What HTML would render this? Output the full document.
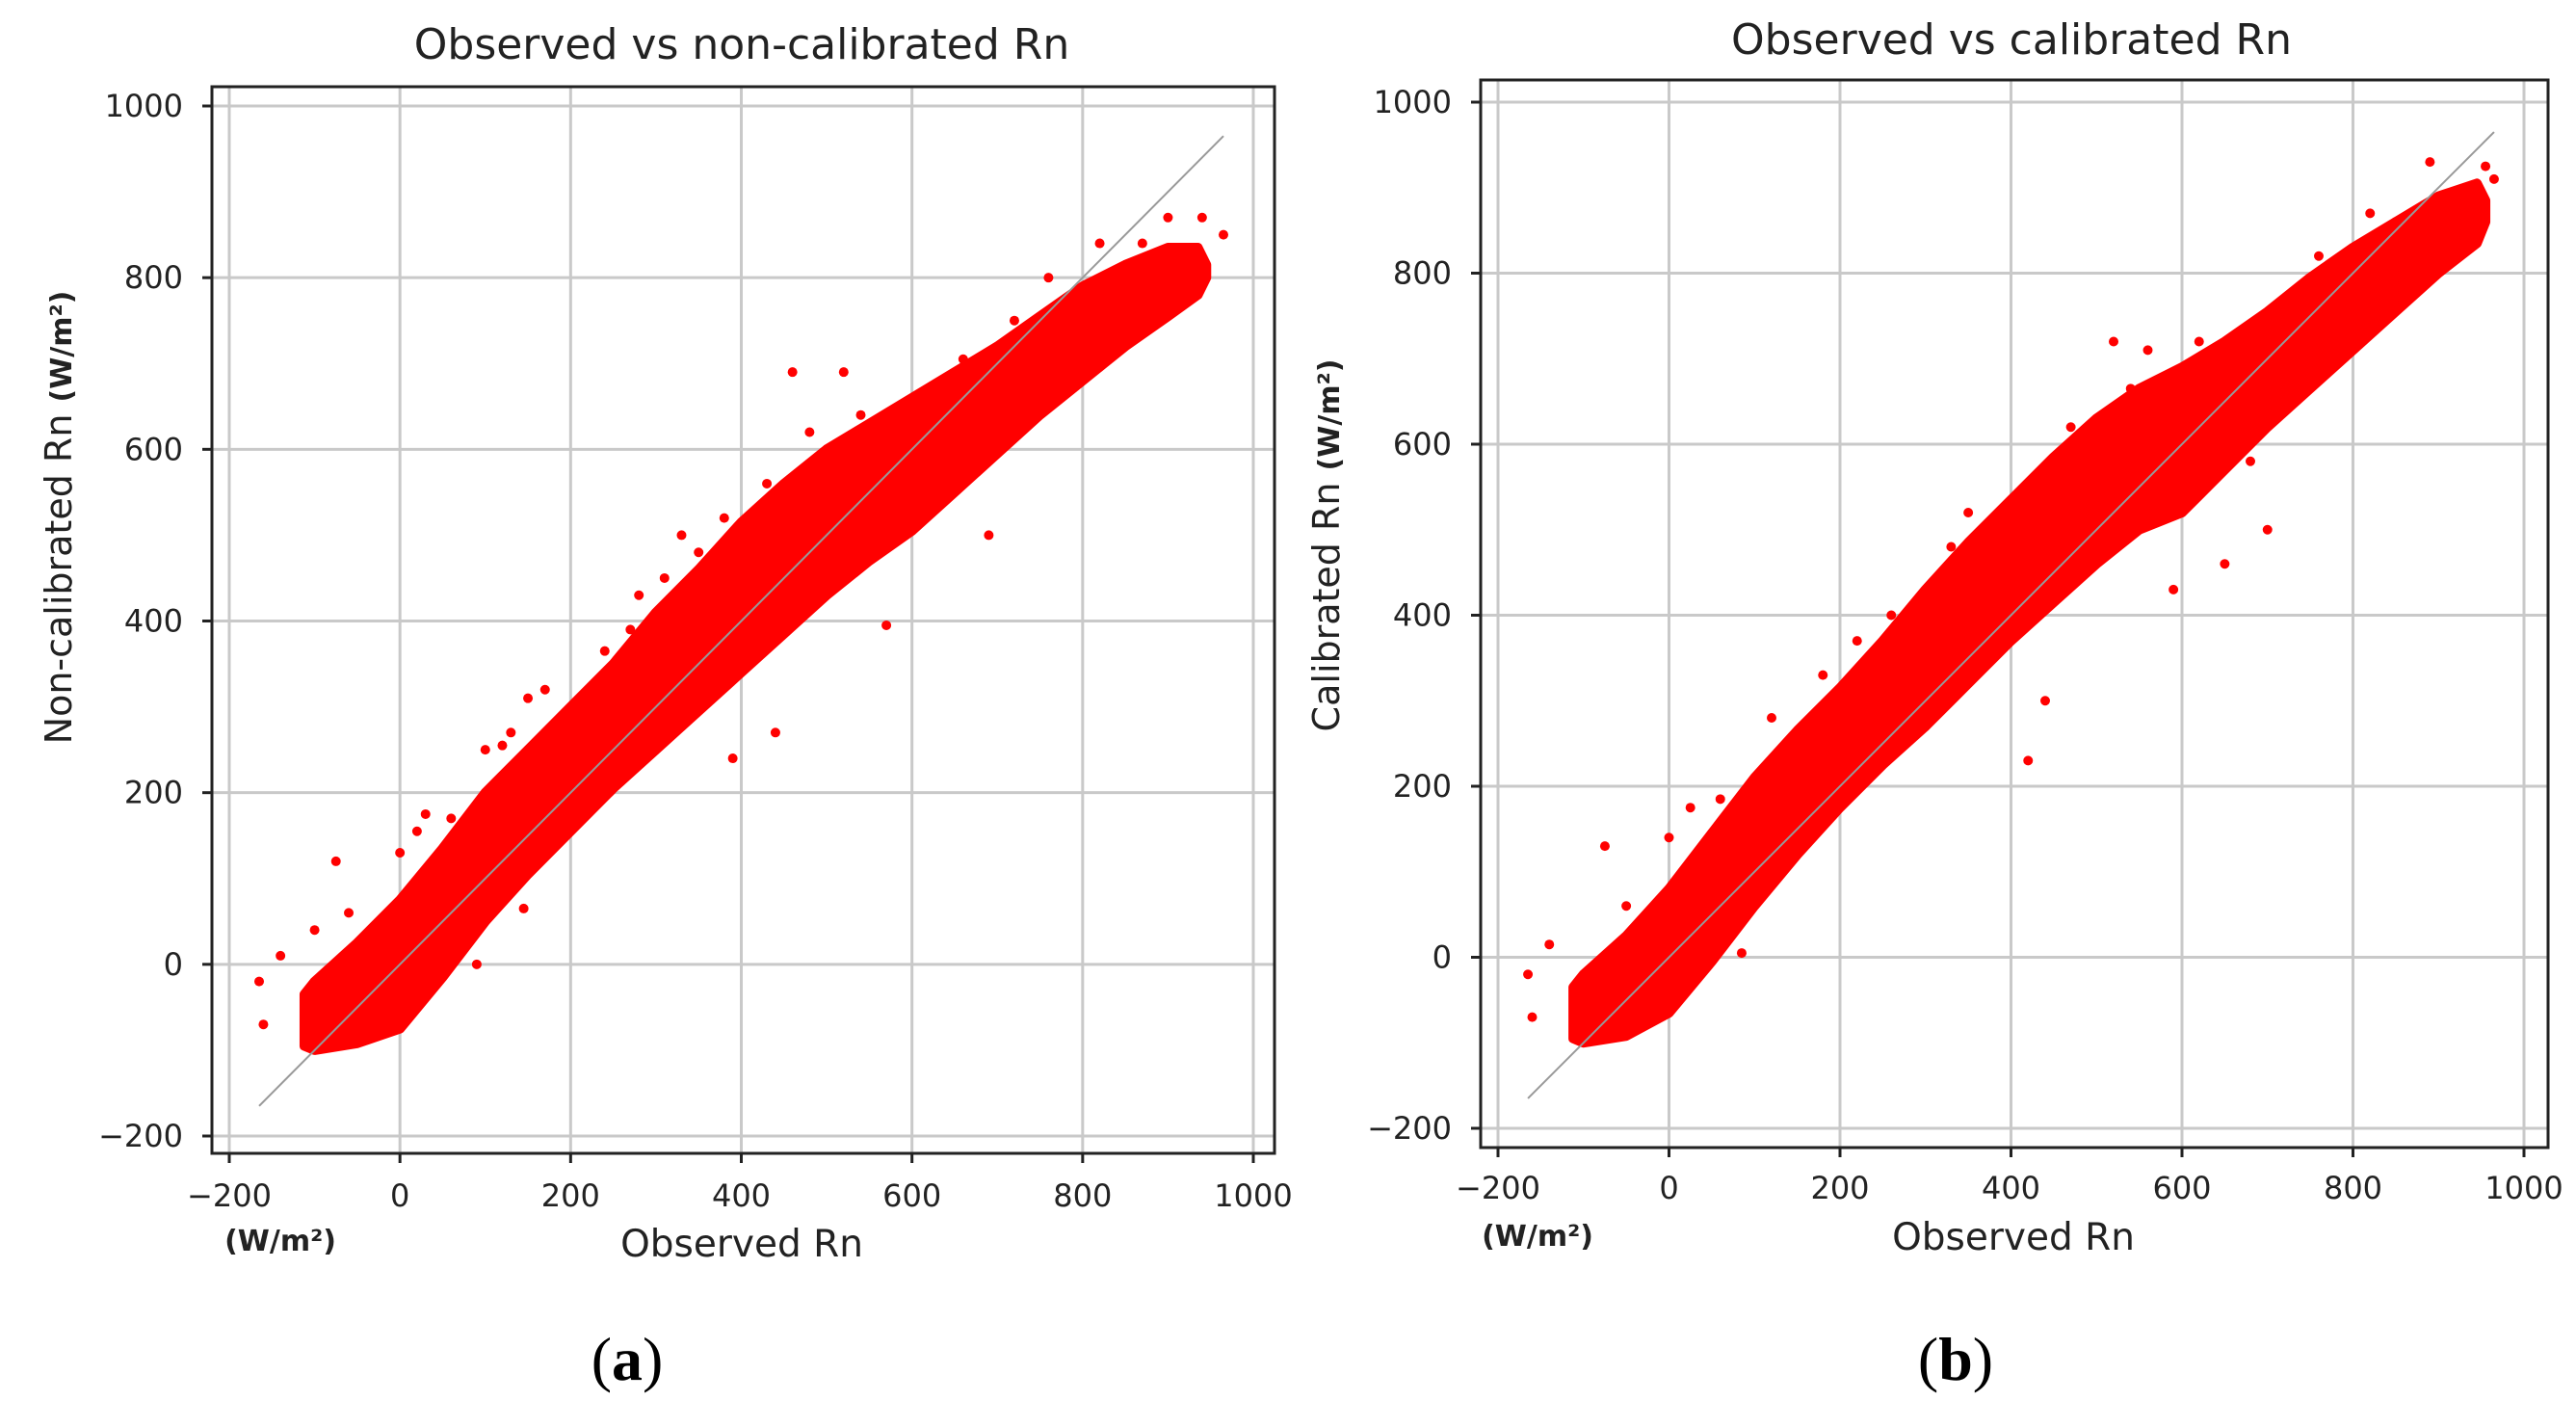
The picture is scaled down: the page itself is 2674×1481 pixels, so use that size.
<!DOCTYPE html>
<html><head><meta charset="utf-8">
<style>
html,body{margin:0;padding:0;background:#fff;}
svg{display:block;}
text{font-family:"DejaVu Sans","Liberation Sans",sans-serif;fill:#222;}
</style></head>
<body>
<svg id="fig" width="2674" height="1481" viewBox="0 0 2674 1481" xmlns="http://www.w3.org/2000/svg"></svg>
<script>
// ---- data ----
const tickValues = [-200, 0, 200, 400, 600, 800, 1000];
const tickLabels = ["\u2212200", "0", "200", "400", "600", "800", "1000"];

// panel a: dense band envelope (observed x, upper / lower predicted)
const bandXA = [-112, -100, -50, 0, 50, 100, 150, 200, 250, 300, 350, 400, 450, 500, 550, 600, 650, 700, 750, 800, 850, 900, 935, 945];
const bandUpA = [-35, -20, 25, 75, 135, 200, 250, 300, 350, 410, 460, 515, 560, 600, 630, 660, 690, 720, 755, 790, 815, 835, 835, 815];
const bandLoA = [-95, -100, -92, -75, -15, 50, 105, 155, 205, 250, 295, 340, 385, 430, 470, 505, 550, 595, 640, 680, 720, 755, 780, 800];
const outXA = [-165, -160, -140, -75, -100, 0, 30, 90, 145, 150, 100, 240, 310, 330, 380, 440, 390, 430, 520, 460, 570, 620, 690, 760, 900, 940, 965, 870, 60, 120, 170, 270, 350, 480, 540, 660, 720, 820, -60, 20, 130, 280];
const outYA = [-20, -70, 10, 120, 40, 130, 175, 0, 65, 310, 250, 365, 450, 500, 520, 270, 240, 560, 690, 690, 395, 610, 500, 800, 870, 870, 850, 840, 170, 255, 320, 390, 480, 620, 640, 705, 750, 840, 60, 155, 270, 430];

// panel b
const bandXB = [-112, -100, -50, 0, 50, 100, 150, 200, 250, 300, 350, 400, 450, 500, 550, 600, 650, 700, 750, 800, 850, 900, 945, 955];
const bandUpB = [-35, -20, 25, 80, 145, 210, 265, 315, 370, 430, 485, 535, 585, 630, 665, 690, 720, 755, 795, 830, 860, 890, 905, 885];
const bandLoB = [-95, -100, -92, -65, -5, 60, 120, 175, 225, 270, 320, 370, 415, 460, 500, 520, 570, 620, 665, 710, 755, 800, 835, 860];
const outXB = [-165, -160, -140, -75, 0, 25, 85, 160, 220, 330, 440, 420, 400, 520, 560, 650, 700, 890, 955, 965, 850, 860, 590, 120, 60, 180, 260, 350, 470, 540, 620, 760, 820, -50, 300, 680];
const outYB = [-20, -70, 15, 130, 140, 175, 5, 260, 370, 480, 300, 230, 520, 720, 710, 460, 500, 930, 925, 910, 860, 820, 430, 280, 185, 330, 400, 520, 620, 665, 720, 820, 870, 60, 270, 580];

const NS = "http://www.w3.org/2000/svg";
const fig = document.getElementById("fig");
function mk(tag, attrs, parent) {
  const e = document.createElementNS(NS, tag);
  for (const k in attrs) e.setAttribute(k, attrs[k]);
  (parent || fig).appendChild(e);
  return e;
}

function panel(cfg) {
  const g = mk("g", {});
  
  
  const sx = v => cfg.x0 + (v + 200) / 1200 * (cfg.x1 - cfg.x0);
  const sy = v => cfg.y0 + (v + 200) / 1200 * (cfg.y1 - cfg.y0);
  tickValues.forEach((v, i) => {
    const gx = mk("line", {x1: sx(v), x2: sx(v), y1: cfg.top, y2: cfg.bottom, stroke: "#c9c9c9", "stroke-width": 3}, g);
    
    
    const gy = mk("line", {x1: cfg.left, x2: cfg.right, y1: sy(v), y2: sy(v), stroke: "#c9c9c9", "stroke-width": 3}, g);
    
    
  });
  let pts = [];
  cfg.bx.forEach((x, i) => pts.push(sx(x) + "," + sy(cfg.up[i])));
  for (let i = cfg.bx.length - 1; i >= 0; i--) pts.push(sx(cfg.bx[i]) + "," + sy(cfg.lo[i]));
  const band = mk("polygon", {points: pts.join(" "), fill: "#ff0000", stroke: "#ff0000", "stroke-width": 10, "stroke-linejoin": "round"}, g);
  
  
  cfg.ox.forEach((x, i) => {
    const c = mk("circle", {cx: sx(x), cy: sy(cfg.oy[i]), r: 5, fill: "#ff0000"}, g);
    
    
  });
  const d = mk("line", {x1: sx(-165), y1: sy(-165), x2: sx(965), y2: sy(965), stroke: "#999", "stroke-width": 2}, g);
  
  
  const fr = mk("rect", {x: cfg.left, y: cfg.top, width: cfg.right - cfg.left, height: cfg.bottom - cfg.top, fill: "none", stroke: "#222", "stroke-width": 3}, g);
  
  
  tickValues.forEach((v, i) => {
    mk("line", {x1: sx(v), x2: sx(v), y1: cfg.bottom, y2: cfg.bottom + 10, stroke: "#222", "stroke-width": 3}, g);
    const tx = mk("text", {x: sx(v), y: cfg.tickY, "font-size": 32, "text-anchor": "middle"}, g);
    tx.textContent = tickLabels[i];
    
    
    mk("line", {x1: cfg.left - 10, x2: cfg.left, y1: sy(v), y2: sy(v), stroke: "#222", "stroke-width": 3}, g);
    const ty = mk("text", {x: cfg.left - 30, y: sy(v) + 11, "font-size": 32, "text-anchor": "end"}, g);
    ty.textContent = tickLabels[i];
    
    
  });
}

panel({name: "panel-a", x0: 238, x1: 1301, y0: 1179, y1: 110, left: 220, right: 1323, top: 90, bottom: 1197, tickY: 1252,
  bx: bandXA, up: bandUpA, lo: bandLoA, ox: outXA, oy: outYA});
panel({name: "panel-b", x0: 1555, x1: 2620, y0: 1171, y1: 106, left: 1537, right: 2645, top: 83, bottom: 1191, tickY: 1244,
  bx: bandXB, up: bandUpB, lo: bandLoB, ox: outXB, oy: outYB});
</script>
<svg style="position:absolute;left:0;top:0" width="2674" height="1481">
  <text x="770" y="61" font-size="44" text-anchor="middle" style="font-family:'DejaVu Sans',sans-serif;fill:#222">Observed vs non-calibrated Rn</text>
  <text x="2088" y="56" font-size="44" text-anchor="middle" style="font-family:'DejaVu Sans',sans-serif;fill:#222">Observed vs calibrated Rn</text>
  <text x="770" y="1304" font-size="39" text-anchor="middle" style="font-family:'DejaVu Sans',sans-serif;fill:#222">Observed Rn</text>
  <text x="2090" y="1297" font-size="39" text-anchor="middle" style="font-family:'DejaVu Sans',sans-serif;fill:#222">Observed Rn</text>
  <text x="291" y="1298" font-size="30" font-weight="bold" text-anchor="middle" style="font-family:'DejaVu Sans',sans-serif;fill:#222">(W/m²)</text>
  <text x="1596" y="1293" font-size="30" font-weight="bold" text-anchor="middle" style="font-family:'DejaVu Sans',sans-serif;fill:#222">(W/m²)</text>
  <text transform="translate(74,537) rotate(-90)" font-size="38" text-anchor="middle" style="font-family:'DejaVu Sans',sans-serif;fill:#222">Non-calibrated Rn <tspan font-weight="bold" font-size="30">(W/m²)</tspan></text>
  <text transform="translate(1390,566) rotate(-90)" font-size="38" text-anchor="middle" style="font-family:'DejaVu Sans',sans-serif;fill:#222">Calibrated Rn  <tspan font-weight="bold" font-size="30">(W/m²)</tspan></text>
  <text x="651" y="1432" font-size="64" text-anchor="middle" style="font-family:'Liberation Serif',serif;fill:#000">(<tspan font-weight="bold">a</tspan>)</text>
  <text x="2030" y="1432" font-size="64" text-anchor="middle" style="font-family:'Liberation Serif',serif;fill:#000">(<tspan font-weight="bold">b</tspan>)</text>
</svg>
</body></html>
